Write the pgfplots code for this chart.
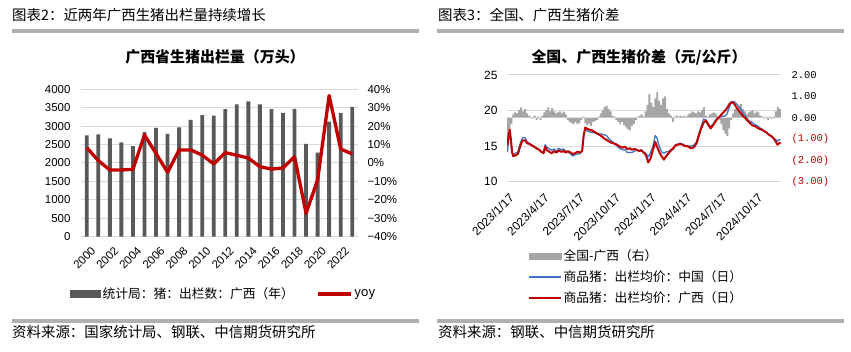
\documentclass[border=0pt]{standalone}
\usepackage{fontspec}
\setmainfont{Liberation Sans}
\newfontfamily\cjk{Noto Sans CJK SC}
\newfontfamily\monof{Liberation Mono}
\usepackage{pgfplots}
\pgfplotsset{compat=1.18}
\definecolor{barL}{HTML}{595959}
\definecolor{redL}{HTML}{C00000}
\definecolor{gridc}{HTML}{D9D9D9}
\definecolor{ruleg}{HTML}{B0B0B0}
\definecolor{diffg}{HTML}{A6A6A6}
\definecolor{blueN}{HTML}{4472C4}
\definecolor{redR}{HTML}{C00000}
\begin{document}
\begin{tikzpicture}[x=1bp,y=1bp]
\path[fill=white] (0bp,0bp) rectangle (851bp,352bp);
% ---------- headers and rules ----------
\node[anchor=west, inner sep=0] at (12bp,337bp) {\cjk\fontsize{14.5}{16}\selectfont 图表2：近两年广西生猪出栏量持续增长};
\node[anchor=west, inner sep=0] at (438bp,337bp) {\cjk\fontsize{14.5}{16}\selectfont 图表3：全国、广西生猪价差};
\fill[ruleg] (12bp,319bp) rectangle (419bp,323bp);
\fill[ruleg] (437bp,319bp) rectangle (844bp,323bp);
\fill[ruleg] (12bp,29bp) rectangle (419bp,33bp);
\fill[ruleg] (437bp,29bp) rectangle (844bp,33bp);
\node[anchor=west, inner sep=0] at (12bp,20bp) {\cjk\fontsize{14.5}{16}\selectfont 资料来源：国家统计局、钢联、中信期货研究所};
\node[anchor=west, inner sep=0] at (438bp,20bp) {\cjk\fontsize{14.5}{16}\selectfont 资料来源：钢联、中信期货研究所};
\node[inner sep=0] at (215bp,295bp) {\cjk\bfseries\fontsize{15}{17}\selectfont 广西省生猪出栏量（万头）};
\node[inner sep=0] at (639bp,295bp) {\cjk\bfseries\fontsize{15}{17}\selectfont 全国、广西生猪价差（元/公斤）};
% ---------- left chart: bars ----------
\begin{axis}[
  at={(81bp,115.3bp)}, anchor=south west, scale only axis,
  width=277bp, height=147.4bp,
  xmin=-0.5, xmax=23.5, ymin=0, ymax=4000,
  ytick={0,500,1000,1500,2000,2500,3000,3500,4000},
  yticklabels={0,500,1000,1500,2000,2500,3000,3500,4000},
  xtick={0,2,4,6,8,10,12,14,16,18,20,22},
  xticklabels={2000,2002,2004,2006,2008,2010,2012,2014,2016,2018,2020,2022},
  axis line style={draw=none}, major tick length=0pt,
  ymajorgrids, grid style={draw=gridc, line width=1bp},
  tick label style={font=\fontsize{11.5}{13}\selectfont},
  yticklabel style={xshift=-7bp},
  xticklabel style={xshift=9bp, yshift=-9.8bp, rotate=45, anchor=east},
]
\addplot[ybar, bar width=3.8bp, fill=barL, draw=none] coordinates {
(0,2750) (1,2780) (2,2670) (3,2560) (4,2460) (5,2840) (6,2950) (7,2790)
(8,2970) (9,3170) (10,3300) (11,3285) (12,3460) (13,3590) (14,3670) (15,3590)
(16,3460) (17,3360) (18,3470) (19,2520) (20,2280) (21,3120) (22,3360) (23,3520)};
\end{axis}
% ---------- left chart: yoy ----------
\begin{axis}[
  at={(81bp,115.3bp)}, anchor=south west, scale only axis,
  width=277bp, height=147.4bp,
  xmin=-0.5, xmax=23.5, ymin=-0.4, ymax=0.4,
  axis y line*=right, axis x line=none,
  axis line style={draw=none}, major tick length=0pt,
  ytick={-0.4,-0.3,-0.2,-0.1,0,0.1,0.2,0.3,0.4},
  yticklabels={−40\%,−30\%,−20\%,−10\%,0\%,10\%,20\%,30\%,40\%},
  tick label style={font=\fontsize{11.5}{13}\selectfont},
  yticklabel style={xshift=6bp},
  legend columns=2,
  legend style={at={(axis description cs:-0.0397,-0.389)}, anchor=west,
    draw=none, fill=none, inner sep=0pt,
    font=\cjk\fontsize{12.8}{14}\selectfont,
    /tikz/every even column/.append style={column sep=20bp}},
]
\addlegendimage{legend image code/.code={\fill[barL] (0bp,-3.5bp) rectangle (30bp,3.5bp);}}
\addlegendentry{统计局：猪：出栏数：广西（年）}
\addplot[redL, line width=3.3bp, line join=round,
  legend image code/.code={\draw[redL, line width=3.5bp] (0bp,0bp) -- (33bp,0bp);}] coordinates {
(0,0.083) (1,0.013) (2,-0.038) (3,-0.038) (4,-0.034) (5,0.152) (6,0.052) (7,-0.051)
(8,0.071) (9,0.071) (10,0.043) (11,-0.005) (12,0.056) (13,0.042) (14,0.027) (15,-0.020)
(16,-0.033) (17,-0.027) (18,0.034) (19,-0.273) (20,-0.092) (21,0.366) (22,0.076) (23,0.049)};
\addlegendentry{yoy}
\end{axis}
% ---------- right chart: grid + left ticks ----------
\begin{axis}[
  at={(507bp,170.3bp)}, anchor=south west, scale only axis,
  width=274bp, height=106.7bp,
  xmin=-1, xmax=703, ymin=10, ymax=25,
  ytick={10,15,20,25}, yticklabels={10,15,20,25},
  xtick={0,90,181,273,365,456,547,639},
  xticklabels={2023/1/17,2023/4/17,2023/7/17,2023/10/17,2024/1/17,2024/4/17,2024/7/17,2024/10/17},
  axis line style={draw=none}, major tick length=0pt,
  ymajorgrids, grid style={draw=gridc, line width=1bp},
  tick label style={font=\fontsize{12}{14}\selectfont},
  yticklabel style={xshift=-6bp},
  xticklabel style={xshift=6.8bp, yshift=-11.8bp, rotate=45, anchor=east},
]
\end{axis}
% ---------- right chart: difference bars ----------
\begin{axis}[
  at={(507bp,170.3bp)}, anchor=south west, scale only axis,
  width=274bp, height=106.7bp,
  xmin=-1, xmax=703, ymin=-3, ymax=2,
  axis y line*=right, axis x line=none,
  axis line style={draw=none}, major tick length=0pt,
  ytick={-3,-2,-1,0,1,2},
  yticklabels={\textcolor{redR}{(3.00)},\textcolor{redR}{(2.00)},\textcolor{redR}{(1.00)},0.00,1.00,2.00},
  tick label style={font=\monof\fontsize{10.5}{12}\selectfont},
  yticklabel style={xshift=7bp},
]
\addplot[ybar, bar width=5, fill=diffg, draw=none] coordinates {
(0,-0.9) (5,-0.6) (10,-0.3) (15,0.15) (20,0.25) (25,0.2) (30,0.35) (35,0.48) (40,0.3) (45,0.4)
(50,0.2) (55,0.1) (60,0.05) (65,-0.05) (70,0.1) (75,-0.1) (80,0.05) (85,-0.1) (90,0.1) (95,0.25)
(100,0.35) (105,0.48) (110,0.3) (115,0.45) (120,0.3) (125,0.2) (130,0.25) (135,0.3) (140,0.2) (145,0.28)
(150,0.15) (155,-0.1) (160,-0.2) (165,-0.25) (170,-0.3) (175,-0.2) (180,-0.3) (185,-0.25) (190,-0.1) (195,0.05)
(200,-0.25) (205,-0.35) (210,-0.3) (215,-0.4) (220,-0.2) (225,-0.15) (230,-0.1) (235,0.05) (240,0.2) (245,0.35)
(250,0.5) (255,0.56) (260,0.4) (265,0.3) (270,0.1) (275,0.05) (280,-0.1) (285,-0.2) (290,-0.3) (295,-0.2)
(300,-0.35) (305,-0.45) (310,-0.55) (315,-0.6) (320,-0.4) (325,-0.3) (330,-0.1) (335,0.05) (340,0.1) (345,0.15)
(350,0.05) (355,0.3) (360,0.6) (365,1.1) (370,0.7) (375,0.5) (380,0.9) (385,1.2) (390,0.8) (395,0.6)
(400,0.9) (405,1.0) (410,0.4) (415,0.2) (420,0.1) (425,-0.2) (430,0.05) (435,0.1) (440,0.05) (445,0.1)
(450,0.05) (455,0.1) (460,0.05) (465,0.15) (470,0.2) (475,0.3) (480,0.25) (485,0.2) (490,0.3) (495,0.25)
(500,0.35) (505,0.48) (510,0.1) (515,0.05) (520,0.15) (525,0.2) (530,0.25) (535,0.2) (540,0.05) (545,-0.1)
(550,-0.3) (555,-0.6) (560,-0.75) (565,-0.85) (570,-0.5) (575,-0.1) (580,0.2) (585,0.4) (590,0.5) (595,0.55)
(600,0.64) (605,0.4) (610,0.3) (615,0.15) (620,0.25) (625,0.3) (630,0.35) (635,0.2) (640,0.3) (645,0.25)
(650,0.1) (655,0.05) (660,-0.05) (665,0.05) (670,-0.1) (675,0.05) (680,-0.05) (685,0.05) (690,0.3) (695,0.5)
(700,0.4)};
\end{axis}
% ---------- right chart: price lines ----------
\begin{axis}[
  at={(507bp,170.3bp)}, anchor=south west, scale only axis,
  width=274bp, height=106.7bp,
  xmin=-1, xmax=703, ymin=10, ymax=25,
  hide axis,
  legend style={at={(axis description cs:0.0766,-0.619)}, anchor=north west,
    draw=none, fill=none, inner sep=0pt, row sep=4.5bp,
    nodes={inner sep=2bp},
    font=\cjk\fontsize{12.8}{14}\selectfont},
  legend cell align=left,
]
\addlegendimage{legend image code/.code={\fill[diffg] (0bp,-3bp) rectangle (32bp,3bp);}}
\addlegendentry{全国-广西（右）}
\addplot[blueN, line width=1.3bp, line join=round,
  legend image code/.code={\draw[blueN, line width=1.5bp] (0bp,0bp) -- (32bp,0bp);}] coordinates {
(0,14.2) (3,15.8) (6,16.7) (9,15.7) (12,14.1) (15,13.8) (21,14.0) (27,14.2) (33,15.4) (39,16.2)
(45,16.2) (51,15.6) (57,15.4) (63,15.1) (69,15.0) (75,14.6) (81,14.6) (87,14.2) (93,14.2) (97,15.2)
(102,14.8) (108,14.6) (114,14.4) (120,14.6) (126,14.3) (132,14.7) (138,14.5) (144,14.6) (150,14.3) (156,14.2)
(162,13.9) (168,13.6) (174,13.8) (180,13.9) (186,13.9) (192,14.3) (196,16.5) (200,17.4) (206,17.1) (212,17.0)
(218,16.9) (224,16.9) (230,16.7) (236,16.7) (242,16.7) (248,16.6) (254,16.5) (260,16.1) (266,15.8) (272,15.5)
(278,15.2) (284,14.9) (290,14.6) (296,14.5) (302,14.5) (308,14.1) (314,14.1) (320,14.1) (326,14.3) (332,14.4)
(338,14.4) (344,14.5) (350,14.2) (356,14.0) (362,13.5) (368,14.1) (374,15.0) (380,16.5) (384,16.2) (390,15.0)
(396,14.2) (402,14.0) (408,14.2) (414,14.2) (420,14.5) (426,14.5) (432,15.2) (438,15.3) (444,15.4) (450,15.3)
(456,15.1) (462,15.1) (468,15.0) (474,15.0) (480,15.2) (486,15.6) (492,16.8) (498,17.8) (504,18.8) (510,18.7)
(516,18.1) (522,17.7) (528,18.1) (534,18.6) (540,19.0) (546,19.1) (552,19.2) (558,19.2) (564,19.5) (570,20.4)
(576,21.2) (582,21.3) (588,21.0) (594,20.6) (600,20.2) (606,19.6) (612,19.2) (618,18.7) (624,18.5) (630,18.3)
(636,18.0) (642,17.9) (648,17.6) (654,17.4) (660,17.1) (666,16.9) (672,16.6) (678,16.4) (684,16.1) (690,15.9)
(694,15.7) (698,15.9) (702,15.9)};
\addlegendentry{商品猪：出栏均价：中国（日）}
\addplot[redR, line width=2bp, line join=round,
  legend image code/.code={\draw[redR, line width=1.5bp] (0bp,0bp) -- (32bp,0bp);}] coordinates {
(0,15.1) (3,16.5) (6,17.3) (9,16.0) (12,14.2) (15,13.6) (21,13.7) (27,13.9) (33,15.0) (39,15.8)
(45,15.8) (51,15.4) (57,15.3) (63,15.1) (69,14.9) (75,14.7) (81,14.5) (87,14.2) (93,14.0) (97,14.9)
(102,14.4) (108,14.2) (114,14.0) (120,14.3) (126,14.1) (132,14.4) (138,14.2) (144,14.3) (150,14.1) (156,14.3)
(162,14.1) (168,13.9) (174,14.0) (180,14.2) (186,14.1) (192,14.3) (196,16.5) (200,17.6) (206,17.4) (212,17.3)
(218,17.2) (224,17.0) (230,16.8) (236,16.6) (242,16.4) (248,16.1) (254,15.9) (260,15.7) (266,15.5) (272,15.4)
(278,15.3) (284,15.1) (290,14.9) (296,14.8) (302,14.9) (308,14.6) (314,14.7) (320,14.5) (326,14.6) (332,14.5)
(338,14.3) (344,14.4) (350,14.1) (356,13.7) (362,12.7) (368,13.3) (374,14.5) (380,15.6) (384,15.0) (390,14.2)
(396,13.6) (402,13.1) (408,13.6) (414,14.0) (420,14.4) (426,14.7) (432,15.1) (438,15.2) (444,15.3) (450,15.2)
(456,15.0) (462,15.0) (468,14.8) (474,14.7) (480,14.9) (486,15.4) (492,16.5) (498,17.5) (504,18.3) (510,18.6)
(516,18.0) (522,17.5) (528,17.9) (534,18.4) (540,18.9) (546,19.2) (552,19.6) (558,19.9) (564,20.3) (570,20.9)
(576,21.2) (582,21.0) (588,20.5) (594,20.0) (600,19.6) (606,19.2) (612,18.9) (618,18.5) (624,18.2) (630,17.9)
(636,17.8) (642,17.6) (648,17.4) (654,17.3) (660,17.1) (666,16.9) (672,16.6) (678,16.4) (684,16.1) (690,15.6)
(694,15.2) (698,15.4) (702,15.5)};
\addlegendentry{商品猪：出栏均价：广西（日）}
\end{axis}
\end{tikzpicture}
\end{document}
